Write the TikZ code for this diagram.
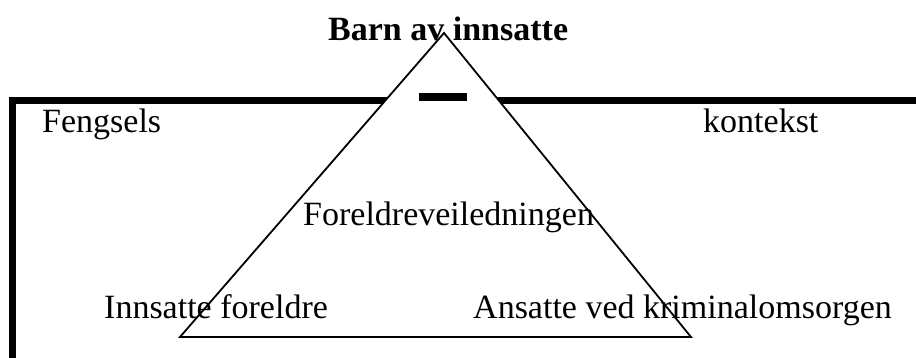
\documentclass[tikz,border=0pt]{standalone}
\usepackage{fontspec}
\setmainfont{Liberation Serif}
\begin{document}
\begin{tikzpicture}[x=1pt,y=-1pt,
  lbl/.style={anchor=base west,inner sep=0pt,font=\fontsize{34}{40}\selectfont},
  title/.style={lbl,font=\fontsize{34}{40}\selectfont\bfseries},
  frame/.style={line width=7pt,miter limit=10},
  tri/.style={draw=black,line width=1.8pt,fill=white,line join=miter}]
\useasboundingbox (0,0) rectangle (916,358);
\begin{scope}
\clip (0,0) rectangle (916,358);
\draw[frame] (920,100.5) -- (12.5,100.5) -- (12.5,370);
\end{scope}
\coordinate (apex) at (444,33);
\coordinate (bl) at (180,337);
\coordinate (br) at (691,337);
\draw[tri] (apex) -- (bl) -- (br) -- cycle;
\fill[black] (419,93) rectangle (467,101);
\node[title] (barn) at (328,41) {Barn av innsatte};
\node[lbl] (feng) at (42,133) {Fengsels};
\node[lbl] (kont) at (703,133) {kontekst};
\node[lbl] (forv) at (303,226) {Foreldreveiledningen};
\node[lbl] (innf) at (104,318) {Innsatte foreldre};
\node[lbl] (ansk) at (473,318) {Ansatte ved kriminalomsorgen};
\end{tikzpicture}
\end{document}
